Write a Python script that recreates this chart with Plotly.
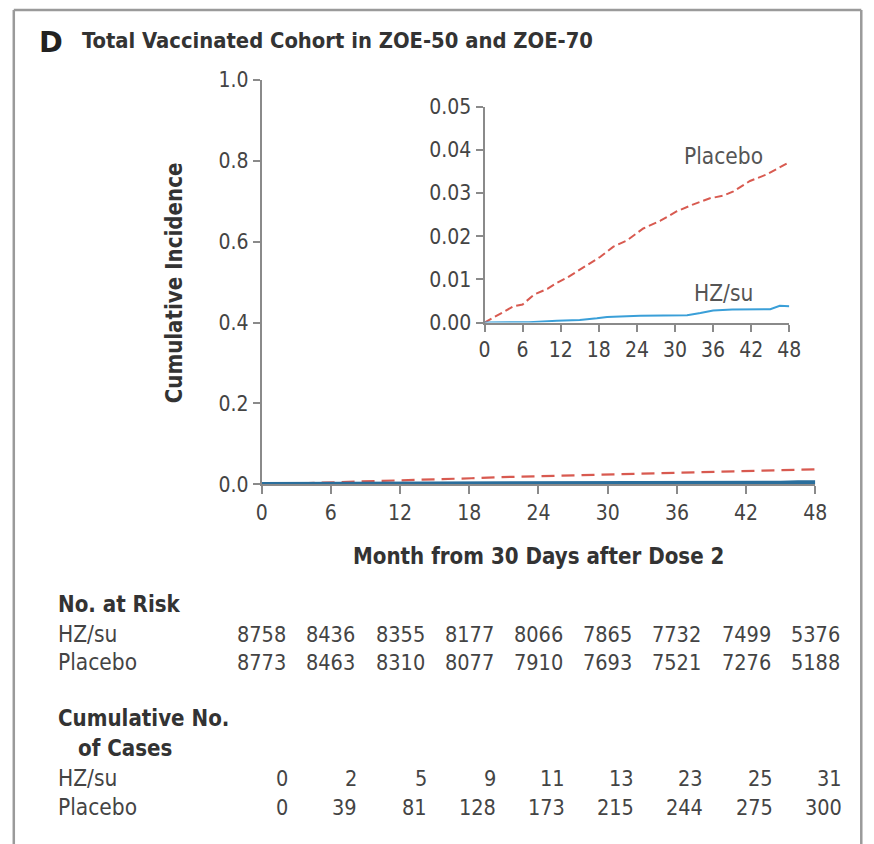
import plotly.graph_objects as go

# The page photograph maps figure px c to picture px as  0.98*c + 5.2  (x)
# and 0.973*c + 11.1 (y); positions below are given in picture px and mapped back.
SX, OX, SY, OY = 0.98, 5.2, 0.973, 11.1
W, H = 874, 856
FS = 1 / 0.977  # font scale compensation

# ---- data ----
months_ticks = [0, 6, 12, 18, 24, 30, 36, 42, 48]

placebo_t = [0, 2.5, 4.6, 6, 7.8, 9.9, 11.4, 13, 15.6, 18.2, 20.3, 22.4, 25, 27.7,
             30.3, 32.9, 35.5, 37.6, 39.2, 41.8, 44.4, 48]
placebo_ci = [0, 0.002, 0.0038, 0.0042, 0.0065, 0.0078, 0.0092, 0.0104, 0.0127, 0.0152,
              0.0176, 0.0190, 0.0218, 0.0236, 0.0258, 0.0274, 0.0288, 0.0294, 0.0304,
              0.0328, 0.0343, 0.0372]

hz_t = [0, 7, 11.4, 15, 17.7, 19.3, 24.5, 31.9, 34, 36, 39, 45, 46.5, 48]
hz_ci = [0, 0.0001, 0.0004, 0.0006, 0.0010, 0.0013, 0.0016, 0.0017, 0.0022, 0.0028,
         0.0030, 0.0031, 0.0039, 0.0038]

at_risk_hz = [8758, 8436, 8355, 8177, 8066, 7865, 7732, 7499, 5376]
at_risk_pl = [8773, 8463, 8310, 8077, 7910, 7693, 7521, 7276, 5188]
cases_hz = [0, 2, 5, 9, 11, 13, 23, 25, 31]
cases_pl = [0, 39, 81, 128, 173, 215, 244, 275, 300]

RED = "#d85a50"
BLUE_MAIN = "#2a6e9c"
BLUE_IN = "#3a9fd8"
GRAY = "#8a8a8a"
TXT = "#444444"
FONT = "DejaVu Sans Condensed, Liberation Sans Narrow, sans-serif"


def px(x):
    return ((x - OX) / SX) / W


def py(y):
    return 1 - ((y - OY) / SY) / H


def fs(s):
    return round(s * FS, 1)


fig = go.Figure()

# main plot
fig.add_trace(go.Scatter(x=placebo_t, y=placebo_ci, mode="lines",
                         line=dict(color=RED, width=2.2, dash="13px,7px"),
                         xaxis="x", yaxis="y", showlegend=False))
fig.add_trace(go.Scatter(x=hz_t, y=hz_ci, mode="lines",
                         line=dict(color=BLUE_MAIN, width=5),
                         xaxis="x", yaxis="y", showlegend=False))
# inset
fig.add_trace(go.Scatter(x=placebo_t, y=placebo_ci, mode="lines",
                         line=dict(color=RED, width=2, dash="8px,4px"),
                         xaxis="x2", yaxis="y2", showlegend=False))
fig.add_trace(go.Scatter(x=hz_t, y=hz_ci, mode="lines",
                         line=dict(color=BLUE_IN, width=2),
                         xaxis="x2", yaxis="y2", showlegend=False))

axis_common = dict(showgrid=False, zeroline=False, showline=True, linecolor=GRAY,
                   linewidth=2, ticks="outside", tickcolor=GRAY, tickwidth=2,
                   tickfont=dict(family=FONT, size=fs(20.5), color=TXT))

fig.update_layout(
    width=W, height=H,
    margin=dict(l=0, r=0, t=0, b=0),
    paper_bgcolor="white", plot_bgcolor="rgba(0,0,0,0)",
    xaxis=dict(domain=[px(261), px(815)], range=[0, 48], tickvals=months_ticks,
               ticklen=8, anchor="y", **axis_common),
    yaxis=dict(domain=[py(484), py(79)], range=[0, 1.0], tickvals=[0, 0.2, 0.4, 0.6, 0.8, 1.0],
               tickformat=".1f", ticklen=7, anchor="x", **axis_common),
    xaxis2=dict(domain=[px(484), px(789)], range=[0, 48], tickvals=months_ticks,
                ticklen=7, anchor="y2", **axis_common),
    yaxis2=dict(domain=[py(322), py(106)], range=[0, 0.05],
                tickvals=[0, 0.01, 0.02, 0.03, 0.04, 0.05], tickformat=".2f",
                ticklen=7, anchor="x2", **axis_common),
)

# frame (open at the bottom, as in the cropped figure)
frame = dict(color="#9a9a9a", width=2.5)
fig.add_shape(type="line", xref="paper", yref="paper", x0=px(13), x1=px(13), y0=0, y1=py(9), line=frame)
fig.add_shape(type="line", xref="paper", yref="paper", x0=px(861), x1=px(861), y0=0, y1=py(9), line=frame)
fig.add_shape(type="line", xref="paper", yref="paper", x0=px(13), x1=px(861), y0=py(9), y1=py(9), line=frame)

ann = []


def text(x, y, s, size=22, bold=False, anchor="left", color=TXT, angle=0, family=FONT):
    ann.append(dict(x=px(x), y=py(y), xref="paper", yref="paper", text=(f"<b>{s}</b>" if bold else s),
                    showarrow=False, xanchor=anchor, yanchor="middle", textangle=angle,
                    font=dict(family=family, size=fs(size), color=color)))


text(36, 41, "D", size=28, bold=True, color="#222222", family="DejaVu Sans, sans-serif")
text(79, 40, "Total Vaccinated Cohort in ZOE-50 and ZOE-70", size=21.3, bold=True, color="#333333")
text(538, 556, "Month from 30 Days after Dose 2", size=21.6, bold=True, anchor="center", color="#333333")
text(173, 282, "Cumulative Incidence", size=21.6, bold=True, anchor="center", color="#333333", angle=-90)
text(723, 155, "Placebo", size=22, anchor="center", color="#555555")
text(723, 292, "HZ/su", size=22, anchor="center", color="#555555")

text(55, 604, "No. at Risk", size=21.6, bold=True, color="#333333")
text(55, 634, "HZ/su", size=22)
text(55, 662, "Placebo", size=22)
text(55, 718, "Cumulative No.", size=21.6, bold=True, color="#333333")
text(75, 748, "of Cases", size=21.6, bold=True, color="#333333")
text(55, 778, "HZ/su", size=22)
text(55, 807, "Placebo", size=22)

for t, a, b, c, d in zip(months_ticks, at_risk_hz, at_risk_pl, cases_hz, cases_pl):
    for val, ypx, anchor, shift in ((a, 634, "center", 0), (b, 662, "center", 0),
                                     (c, 778, "right", 28 / SX), (d, 807, "right", 28 / SX)):
        ann.append(dict(x=t, y=py(ypx), xref="x", yref="paper", text=str(val),
                        showarrow=False, xanchor=anchor, yanchor="middle", xshift=shift,
                        font=dict(family=FONT, size=fs(21), color=TXT)))

fig.update_layout(annotations=ann)
fig.write_html("out.html")
